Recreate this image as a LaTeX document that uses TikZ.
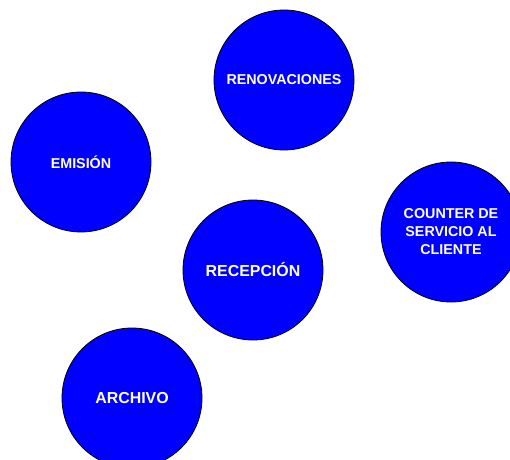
\documentclass[tikz,border=0pt]{standalone}
\usepackage{fontspec}
\setmainfont{Liberation Sans}
\begin{document}
\begin{tikzpicture}[x=1bp,y=-1bp,
  area/.style={circle, draw=black, line width=0.8bp, fill={rgb,255:red,0;green,0;blue,255},
    minimum size=140bp, inner sep=0pt, text=white, align=center, font=\bfseries},
  small/.style={font=\fontsize{14.3bp}{18bp}\selectfont\bfseries},
  large/.style={font=\fontsize{15.9bp}{19bp}\selectfont\bfseries}]
  \useasboundingbox (0,0) rectangle (510,460);
  \clip (0,0) rectangle (510,460);
  \node[area, small] (renov) at (284,80) {RENOVACIONES};
  \node[area, small] (emis) at (81,162) {EMISIÓN};
  \node[area, small] (counter) at (451,232) {COUNTER DE\\SERVICIO AL\\CLIENTE};
  \node[area, large] (recep) at (253,270) {RECEPCIÓN};
  \node[area, large] (arch) at (132,398) {ARCHIVO};
\end{tikzpicture}
\end{document}
